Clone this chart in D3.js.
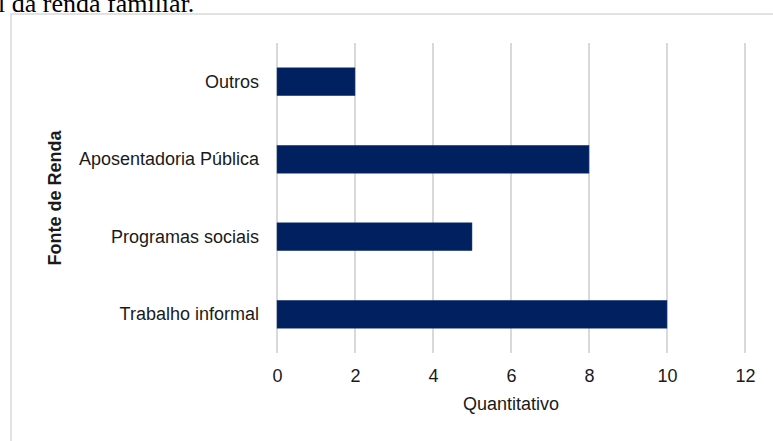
<!DOCTYPE html>
<html>
<head>
<meta charset="utf-8">
<script src="https://cdn.jsdelivr.net/npm/d3@7"></script>
<style>
  html, body { margin: 0; padding: 0; background: #fff; }
  svg { display: block; }
</style>
</head>
<body>
<svg id="chart" width="773" height="441"></svg>
<script>
// Fonte de renda das famílias (quantitativo)
const categories = ["Outros", "Aposentadoria Pública", "Programas sociais", "Trabalho informal"];
const values = [2, 8, 5, 10];
const xTicks = [0, 2, 4, 6, 8, 10, 12];

const svg = d3.select("#chart");
const W = 773, H = 441;
const margin = { left: 277, right: 28, top: 43, bottom: 88 };
const sans = "'Liberation Sans', Arial, sans-serif";

// caption line from the surrounding page
svg.append("text")
  .attr("x", -2).attr("y", 12)
  .attr("font-family", "'Liberation Serif', 'Times New Roman', serif")
  .attr("font-size", 26)
  .attr("fill", "#000")
  .text("l da renda familiar.");

// chart frame
svg.append("rect")
  .attr("x", 11).attr("y", 14)
  .attr("width", 775).attr("height", 440)
  .attr("fill", "none")
  .attr("stroke", "#d9d9d9")
  .attr("stroke-width", 1.5);

const x = d3.scaleLinear().domain([0, 12]).range([margin.left, W - margin.right]);
const y = d3.scaleBand().domain(categories).range([margin.top, H - margin.bottom]).paddingInner(0.64).paddingOuter(0.32);

// vertical gridlines
svg.append("g")
  .selectAll("line")
  .data(xTicks)
  .join("line")
  .attr("x1", d => x(d)).attr("x2", d => x(d))
  .attr("y1", margin.top).attr("y2", H - margin.bottom)
  .attr("stroke", "#d9d9d9")
  .attr("stroke-width", 2);

// bars
svg.append("g")
  .selectAll("rect")
  .data(categories)
  .join("rect")
  .attr("x", x(0))
  .attr("y", d => y(d))
  .attr("width", (d, i) => x(values[i]) - x(0))
  .attr("height", y.bandwidth())
  .attr("fill", "#002060")
  .attr("stroke", "#2f4a80")
  .attr("stroke-width", 0.5);

// x axis labels
const xAxis = d3.axisBottom(x).tickValues(xTicks).tickSize(0).tickPadding(0);
const gx = svg.append("g")
  .attr("transform", `translate(0, ${H - margin.bottom + 29})`)
  .call(xAxis);
gx.select(".domain").remove();
gx.selectAll("text")
  .attr("font-family", sans)
  .attr("font-size", 18)
  .attr("fill", "#1a1a1a")
  .attr("dy", 0);

// y axis labels
const yAxis = d3.axisLeft(y).tickSize(0).tickPadding(18);
const gy = svg.append("g")
  .attr("transform", `translate(${margin.left}, 0)`)
  .call(yAxis);
gy.select(".domain").remove();
gy.selectAll("text")
  .attr("font-family", sans)
  .attr("font-size", 18)
  .attr("fill", "#1a1a1a");

// axis titles
svg.append("text")
  .attr("x", x(6)).attr("y", 410)
  .attr("text-anchor", "middle")
  .attr("font-family", sans)
  .attr("font-size", 18)
  .attr("fill", "#1a1a1a")
  .text("Quantitativo");

svg.append("text")
  .attr("transform", `translate(61, 198) rotate(-90)`)
  .attr("text-anchor", "middle")
  .attr("font-family", sans)
  .attr("font-size", 18)
  .attr("font-weight", "bold")
  .attr("fill", "#1a1a1a")
  .text("Fonte de Renda");
</script>
</body>
</html>
